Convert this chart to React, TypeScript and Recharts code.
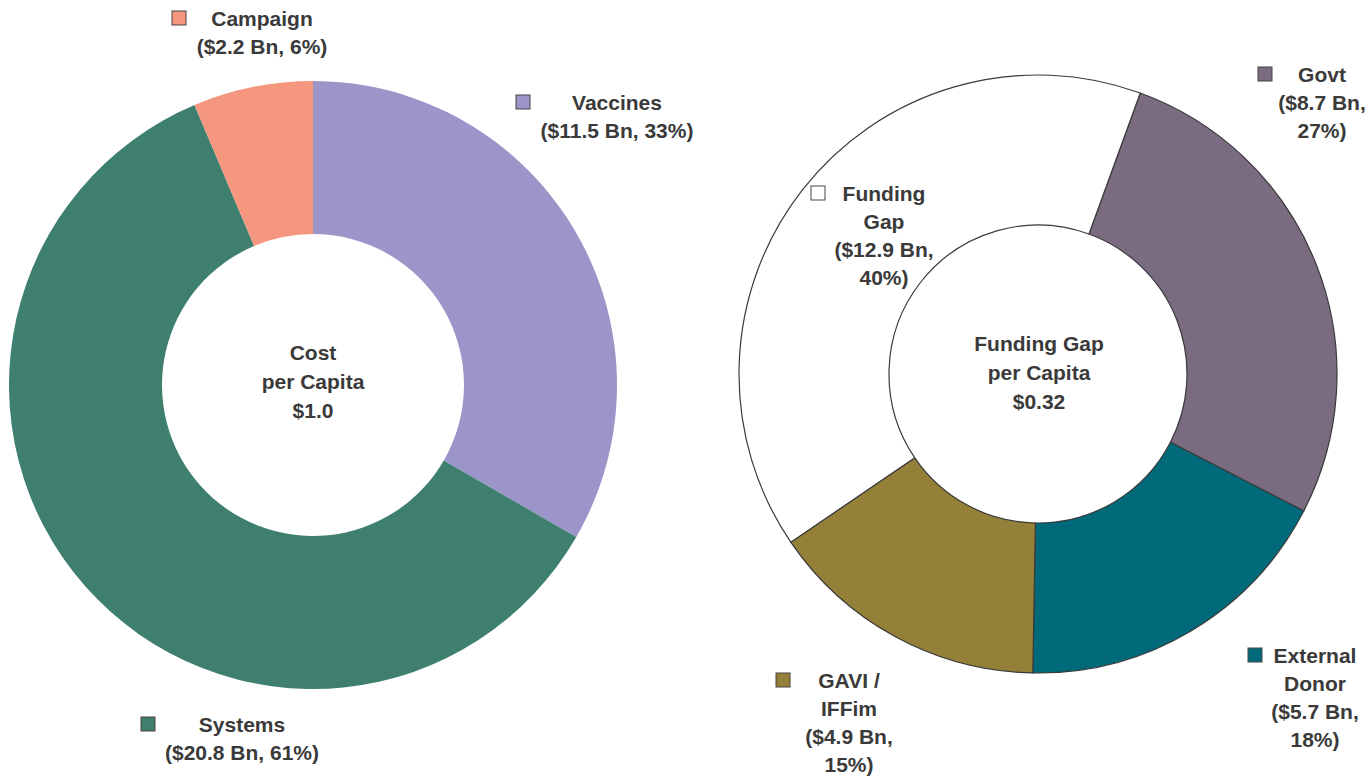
import React from 'react';
import { PieChart, Pie, Cell } from 'recharts';

const costCategories = ['Vaccines', 'Systems', 'Campaign'];
const costValues = [11.5, 20.8, 2.2];
const costPercents = ['33%', '61%', '6%'];
const costColors = ['#9c95c9', '#3e7f70', '#f4977e'];

const fundCategories = ['Govt', 'External Donor', 'GAVI / IFFim', 'Funding Gap'];
const fundValues = [8.7, 5.7, 4.9, 12.9];
const fundPercents = ['27%', '18%', '15%', '40%'];
const fundColors = ['#7a6b80', '#00697a', '#948038', '#ffffff'];

const costData = costCategories.map((name, i) => ({ name, value: costValues[i] }));
const fundData = fundCategories.map((name, i) => ({ name, value: fundValues[i] }));

const FONT = '"Liberation Sans", Arial, Helvetica, sans-serif';
const TEXT = '#3a3a3a';

type LabelProps = {
  x: number;
  y0: number;
  lines: string[];
  square: { x: number; color: string };
  lh?: number;
};

const LabelBlock = ({ x, y0, lines, square, lh = 28 }: LabelProps) => (
  <g>
    <rect x={square.x} y={y0 - 7} width={14} height={14} fill={square.color} stroke="#444" strokeWidth={1} />
    {lines.map((l, i) => (
      <text
        key={i}
        x={x}
        y={y0 + i * lh}
        textAnchor="middle"
        dominantBaseline="central"
        fontFamily={FONT}
        fontWeight="bold"
        fontSize={21}
        fill={TEXT}
      >
        {l}
      </text>
    ))}
  </g>
);

const CenterText = ({ x, y0, lines }: { x: number; y0: number; lines: string[] }) => (
  <g>
    {lines.map((l, i) => (
      <text
        key={i}
        x={x}
        y={y0 + i * 29}
        textAnchor="middle"
        dominantBaseline="central"
        fontFamily={FONT}
        fontWeight="bold"
        fontSize={21}
        fill={TEXT}
      >
        {l}
      </text>
    ))}
  </g>
);

export default function App() {
  return (
    <div style={{ position: 'absolute', left: 0, top: 0, width: 1371, height: 777, background: '#fff' }}>
      <PieChart width={1371} height={777} margin={{ top: 0, right: 0, bottom: 0, left: 0 }}>
        <Pie
          data={costData}
          dataKey="value"
          nameKey="name"
          cx={313}
          cy={385}
          outerRadius={304}
          innerRadius={151}
          startAngle={90}
          endAngle={-270}
          stroke="none"
          isAnimationActive={false}
        >
          {costData.map((d, i) => (
            <Cell key={d.name} fill={costColors[i]} />
          ))}
        </Pie>
        <Pie
          data={fundData}
          dataKey="value"
          nameKey="name"
          cx={1038}
          cy={374}
          outerRadius={299}
          innerRadius={149}
          startAngle={70}
          endAngle={-290}
          stroke="#3a3a3a"
          strokeWidth={1.2}
          isAnimationActive={false}
        >
          {fundData.map((d, i) => (
            <Cell key={d.name} fill={fundColors[i]} />
          ))}
        </Pie>
      </PieChart>
      <svg width={1371} height={777} style={{ position: 'absolute', left: 0, top: 0, pointerEvents: 'none' }}>
        <LabelBlock x={262} y0={18} lines={[costCategories[2], `($${costValues[2]} Bn, ${costPercents[2]})`]} square={{ x: 172, color: costColors[2] }} />
        <LabelBlock x={617} y0={102} lines={[costCategories[0], `($${costValues[0]} Bn, ${costPercents[0]})`]} square={{ x: 516, color: costColors[0] }} />
        <LabelBlock x={242} y0={724} lines={[costCategories[1], `($${costValues[1]} Bn, ${costPercents[1]})`]} square={{ x: 141, color: costColors[1] }} />
        <CenterText x={313} y0={352} lines={['Cost', 'per Capita', '$1.0']} />

        <LabelBlock x={1322} y0={74} lines={['Govt', `($${fundValues[0]} Bn,`, `${fundPercents[0]})`]} square={{ x: 1258, color: fundColors[0] }} />
        <LabelBlock x={1315} y0={655} lines={['External', 'Donor', `($${fundValues[1]} Bn,`, `${fundPercents[1]})`]} square={{ x: 1248, color: fundColors[1] }} />
        <LabelBlock x={849} y0={680} lines={['GAVI /', 'IFFim', `($${fundValues[2]} Bn,`, `${fundPercents[2]})`]} square={{ x: 776, color: fundColors[2] }} />
        <LabelBlock x={884} y0={193} lines={['Funding', 'Gap', `($${fundValues[3]} Bn,`, `${fundPercents[3]})`]} square={{ x: 811, color: fundColors[3] }} />
        <CenterText x={1039} y0={343} lines={['Funding Gap', 'per Capita', '$0.32']} />
      </svg>
    </div>
  );
}
